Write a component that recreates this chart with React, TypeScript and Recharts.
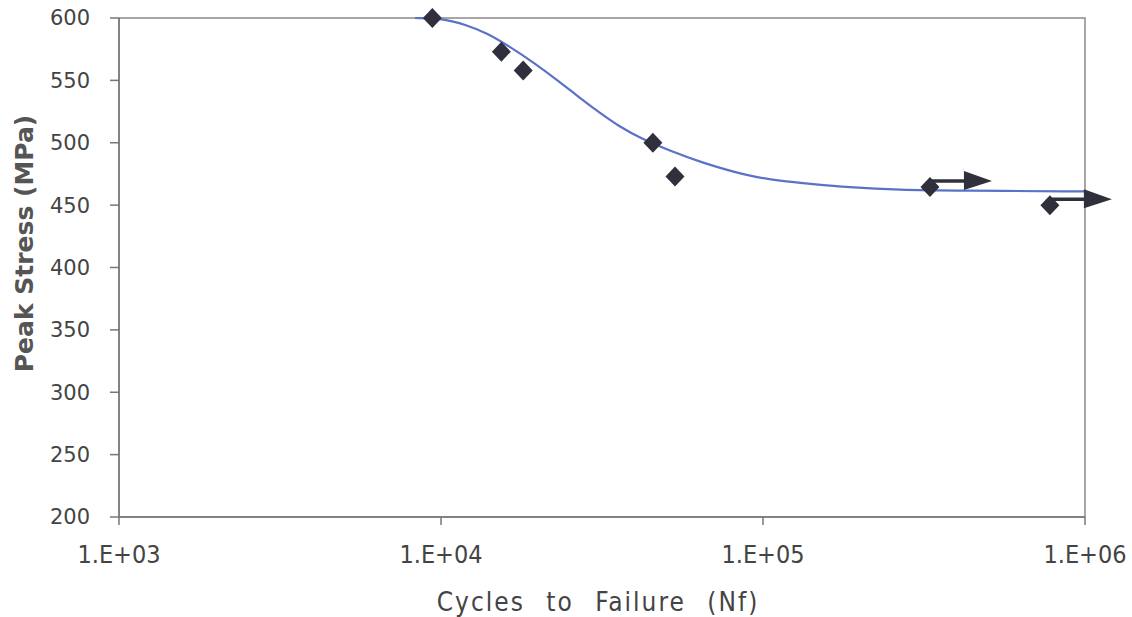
import React from "react";
import { ComposedChart, Line, Scatter, XAxis, YAxis, ReferenceArea, Label } from "recharts";

// fitted S-N curve (cycles, MPa)
const curveCycles = [8300, 10100, 12000, 13900, 16400, 19300, 23400, 27000, 31200, 36000, 41500, 52500, 63700, 89000, 113000, 143000, 182000, 266000, 400000, 1000000];
const curveStress = [600, 599.8, 594.4, 588, 576.8, 564.7, 548.7, 535.9, 523.8, 512.6, 503.8, 492.6, 484.6, 473.5, 469.3, 466.9, 464.5, 462.1, 461.6, 461];

// test results that failed
const failCycles = [9400, 15400, 18000, 45500, 53300];
const failStress = [600, 573, 558, 500, 473];

// run-outs (no failure)
const runoutCycles = [330000, 778000];
const runoutStress = [464.5, 450];

const xTicks = [1000, 10000, 100000, 1000000];
const yTicks = [200, 250, 300, 350, 400, 450, 500, 550, 600];

const curve = curveCycles.map((x, i) => ({ x, y: curveStress[i] }));
const fails = failCycles.map((x, i) => ({ x, y: failStress[i] }));
const runouts = runoutCycles.map((x, i) => ({ x, y: runoutStress[i] }));

const MARK = "#30303c";

function Diamond({ cx, cy }: any) {
  if (cx == null || cy == null) return null;
  return <path d={`M${cx},${cy - 10} L${cx + 9.5},${cy} L${cx},${cy + 10} L${cx - 9.5},${cy} Z`} fill={MARK} />;
}

function Runout({ cx, cy }: any) {
  if (cx == null || cy == null) return null;
  const ay = cy - 6;
  return (
    <g>
      <line x1={cx} y1={ay} x2={cx + 36} y2={ay} stroke={MARK} strokeWidth={3.5} />
      <path d={`M${cx + 34},${ay - 10} L${cx + 62},${ay} L${cx + 34},${ay + 9} Z`} fill={MARK} />
      <Diamond cx={cx} cy={cy} />
    </g>
  );
}

const fmtX = (v: number) => `1.E+0${Math.round(Math.log10(v))}`;

export default function App() {
  return (
    <div style={{ position: "absolute", left: 0, top: 0, background: "#fff" }}>
      <ComposedChart width={1132} height={617} margin={{ top: 18, right: 47, bottom: 0, left: 0 }}>
        <ReferenceArea x1={1000} x2={1000000} y1={200} y2={600} fill="none" stroke="#8a8a8a" strokeWidth={1.5} />
        <XAxis
          dataKey="x"
          type="number"
          scale="log"
          domain={[1000, 1000000]}
          ticks={xTicks}
          tickFormatter={fmtX}
          height={100}
          stroke="#777"
          strokeWidth={1.5}
          tickSize={8}
          tickMargin={20}
          tick={{ fill: "#444", fontSize: 25, fontFamily: "DejaVu Sans Condensed" }}
        >
          <Label
            value="Cycles to Failure (Nf)"
            position="insideBottom"
            offset={6}
            dx={-4}
            style={{ fill: "#444", fontSize: 26, fontFamily: "DejaVu Sans Condensed", letterSpacing: 2, wordSpacing: 12 }}
          />
        </XAxis>
        <YAxis
          dataKey="y"
          type="number"
          domain={[200, 600]}
          ticks={yTicks}
          width={119}
          stroke="#777"
          strokeWidth={1.5}
          tickSize={9}
          tickMargin={20}
          tick={{ fill: "#444", fontSize: 21, fontFamily: "DejaVu Sans" }}
        >
          <Label
            value="Peak Stress (MPa)"
            angle={-90}
            position="insideLeft"
            offset={24}
            dy={-24}
            style={{ fill: "#555", fontSize: 25, fontWeight: "bold", fontFamily: "DejaVu Sans", textAnchor: "middle" }}
          />
        </YAxis>
        <Line data={curve} dataKey="y" type="basis" stroke="#5a72c8" strokeWidth={2.2} dot={false} isAnimationActive={false} />
        <Scatter data={fails} dataKey="y" shape={<Diamond />} isAnimationActive={false} />
        <Scatter data={runouts} dataKey="y" shape={<Runout />} isAnimationActive={false} />
      </ComposedChart>
    </div>
  );
}
